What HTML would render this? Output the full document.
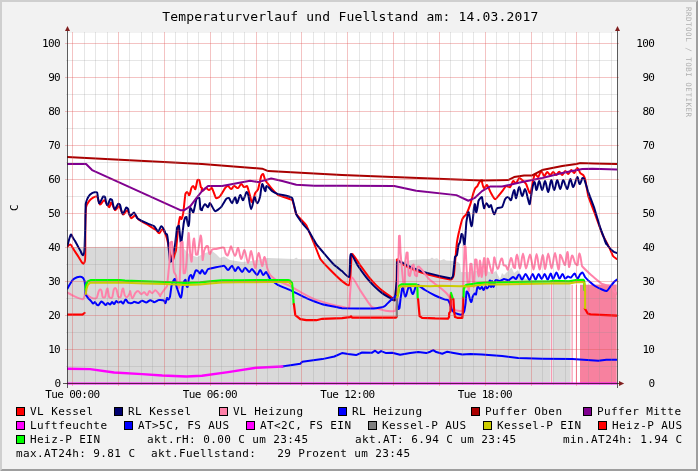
<!DOCTYPE html>
<html><head><meta charset="utf-8"><title>Temperaturverlauf und Fuellstand</title>
<style>html,body{margin:0;padding:0;background:#f2f2f2;}svg{display:block;will-change:transform;}text{font-family:"DejaVu Sans Mono","Liberation Mono",monospace;fill:#000;white-space:pre;}.t{font-size:13px}.l{font-size:11px}.x{font-size:11px}.w{font-size:7.5px;fill:#b0b0b0}</style></head><body>
<svg width="698" height="471" viewBox="0 0 698 471">
<rect x="0" y="0" width="698" height="471" fill="#f2f2f2"/>
<polygon points="0,0 698,0 696,2 2,2 2,469 0,471" fill="#cfcfcf"/>
<polygon points="698,471 0,471 2,469 696,469 696,2 698,0" fill="#9e9e9e"/>
<rect x="67" y="33" width="550" height="351" fill="#fff"/>
<clipPath id="cv"><rect x="67" y="33" width="550" height="352"/></clipPath>
<g clip-path="url(#cv)">
<path d="M67 247.07 L182.6 246.8 L186 251 L190 255 L197 257 L201 255 L205 253 L212 251 L216 254 L220 258 L224 256.5 L230 260 L236 261 L242.1 262 L252 261 L262.2 259 L268 258 L294 259 L296.3 257.6 L298 259 L342 259 L362 259 L385 258.9 L397 259 L405 261.6 L411 260 L423 258.9 L430 258.9 L432 257.6 L434 259 L437 258.3 L440 260.5 L444 259 L446 260.6 L453 261 L458 262 L460 264 L461 272 L470 272 L482 270 L490 272 L492 274 L494 272 L496 271 L500 279 L502 273 L504 275 L507 272 L510 269 L511.5 267.5 L514 273 L518 270 L520 274 L524 278 L530 280 L550 280 L550.6 280 L550.6 383.5 L67 383.5 Z" fill="#d9d9d9"/>
<path d="M551.2 280 L552.2 280 L552.2 383.5 L551.2 383.5 Z" fill="#f7819f"/>
<path d="M552.5 280 L570.5 280 L570.6 280.96 L570.6 383.5 L552.5 383.5 Z" fill="#d9d9d9"/>
<path d="M571.6 284.796 L572.6 284.79 L572.6 383.5 L571.6 383.5 Z" fill="#f7819f"/>
<path d="M575.9 284.768 L576.9 284.762 L576.9 383.5 L575.9 383.5 Z" fill="#f7819f"/>
<path d="M580 284.741 L616.7 284.502 L616.7 383.5 L580 383.5 Z" fill="#f7819f"/>
</g>
<g clip-path="url(#cv)" fill="none" stroke-linejoin="round" stroke-linecap="round">
<path d="M67.52 246.56 C67.52 246.56 69.73 244.13 70.52 244.56 C71.31 244.99 73.48 249.23 74.03 250.07 C74.58 250.91 77.51 255.25 78.05 256.09 C78.59 256.93 81.79 262.25 82.06 262.61 C82.33 262.97 83.16 263.82 83.56 263.61 C83.96 263.40 84.73 261.79 84.87 261.1 C85.01 260.41 85.26 256.09 85.27 255.09 C85.28 254.09 85.35 226.00 85.37 225 C85.39 224.00 85.92 208.15 86.07 207.16 C86.22 206.17 88.48 201.95 89.08 201.15 C89.68 200.35 92.22 198.24 93.09 197.74 C93.96 197.24 96.38 195.83 97.1 196.53 C97.82 197.23 99.22 204.10 100.11 204.56 C101.00 205.02 103.16 199.86 104.12 200.14 C105.08 200.42 108.18 206.84 109.13 207.16 C110.08 207.48 110.25 202.10 111.14 202.55 C112.03 203.00 114.24 209.76 115.15 210.17 C116.06 210.58 118.28 205.68 119.16 206.16 C120.04 206.64 122.28 214.13 123.17 214.58 C124.06 215.03 126.28 209.76 127.19 210.17 C128.10 210.58 130.35 217.66 131.2 218.19 C132.05 218.72 134.22 215.05 135.21 215.19 C136.20 215.33 137.43 218.59 138.22 219.2 C139.01 219.81 147.40 224.69 148.25 225.21 C149.10 225.73 155.46 229.64 156.27 230.23 C157.08 230.82 158.29 233.40 159.28 233.24 C160.27 233.08 161.37 228.84 162.29 229.23 C163.21 229.62 165.92 235.33 166.3 236.25 C166.68 237.17 167.78 242.02 168 243 C168.22 243.98 169.76 252.03 170 253 C170.24 253.97 171.86 258.68 172 259 C172.14 259.32 172.81 260.30 173 260 C173.19 259.70 174.21 255.96 174.5 255 C174.79 254.04 175.85 250.99 176 250 C176.15 249.01 177.40 236.00 177.5 235 C177.60 234.00 178.36 225.99 178.5 225 C178.64 224.01 179.72 217.56 180 217 C180.28 216.44 181.14 219.51 181.5 219 C181.86 218.49 183.20 213.17 183.35 212.18 C183.50 211.19 185.21 194.83 185.35 194.13 C185.49 193.43 186.67 191.95 187.36 192.12 C188.05 192.29 188.72 195.77 189.36 195.13 C190.00 194.49 191.08 188.76 191.37 188.11 C191.66 187.46 192.69 185.93 193.38 186.1 C194.07 186.27 194.88 189.86 195.38 189.11 C195.88 188.36 197.19 180.55 197.39 180.09 C197.59 179.63 199.17 179.64 199.39 180.09 C199.61 180.54 200.68 186.74 200.8 187.11 C200.92 187.48 201.89 187.74 202 188.11 C202.11 188.48 201.25 191.12 202 191.12 C202.75 191.12 205.12 188.24 206.01 188.11 C206.90 187.98 208.12 190.11 209.02 190.11 C209.92 190.11 211.44 187.43 212.03 188.11 C212.62 188.79 215.33 197.43 216.04 198.14 C216.75 198.85 219.38 196.87 220.05 196.13 C220.72 195.39 224.51 188.82 225.07 188.11 C225.63 187.40 227.18 185.95 228.07 186.1 C228.96 186.25 230.08 189.11 231.08 189.11 C232.08 189.11 233.10 186.24 234.09 186.1 C235.08 185.96 237.14 188.38 238.1 188.11 C239.06 187.84 240.12 184.26 241.11 184.1 C242.10 183.94 243.37 186.86 244.12 187.11 C244.87 187.36 246.69 185.44 247.13 186.1 C247.57 186.76 249.84 195.18 250.14 196.13 C250.44 197.08 251.28 202.66 252.14 202.15 C253.00 201.64 254.73 194.03 255.15 193.12 C255.57 192.21 257.83 190.05 258.16 189.11 C258.49 188.17 260.95 176.74 261.17 176.07 C261.39 175.40 262.67 173.57 263.17 174.07 C263.67 174.57 264.73 179.20 265.18 180.09 C265.63 180.98 267.58 183.31 268.19 184.1 C268.80 184.89 271.53 188.37 272.2 189.11 C272.87 189.85 277.34 194.65 278.22 195.13 C279.10 195.61 291.57 199.41 292.26 200.14 C292.95 200.87 295.78 213.31 296.27 214.18 C296.76 215.05 305.78 224.35 306.3 225.21 C306.82 226.07 313.94 243.15 314.32 244.07 C314.70 244.99 319.81 258.19 320.34 259.04 C320.87 259.89 329.67 269.36 330.37 270.07 C331.07 270.78 341.22 280.48 342 281.11 C342.78 281.74 348.16 285.63 349.02 285.12 C349.88 284.61 350.32 277.09 350.42 276.09 C350.52 275.09 351.37 254.78 352.03 254.03 C352.69 253.28 359.46 264.25 360.05 265.06 C360.64 265.87 367.45 275.31 368.07 276.09 C368.69 276.87 375.39 284.41 376.1 285.12 C376.81 285.83 383.33 291.52 384.12 292.14 C384.91 292.76 391.31 297.20 392.14 297.75 C392.97 298.30 396.02 301.15 396.15 300.16 C396.28 299.17 397.00 259.75 397 259.6 C397.00 259.45 397.39 259.21 397.5 259.3 C397.61 259.39 402.18 263.93 403 264.5 C403.82 265.07 409.09 267.60 410 268 C410.91 268.40 419.06 271.67 420 272 C420.94 272.33 429.04 274.74 430 275 C430.96 275.26 439.22 277.28 440.2 277.5 C441.18 277.72 449.74 279.44 450.2 279.5 C450.66 279.56 451.73 279.38 452 279 C452.27 278.62 453.85 274.99 454 274 C454.15 273.01 455.91 253.00 456 252 C456.09 251.00 456.86 242.99 457 242 C457.14 241.01 458.29 234.98 458.5 234 C458.71 233.02 460.09 227.19 460.34 226.22 C460.59 225.25 462.00 220.04 462.34 219.2 C462.68 218.36 463.91 216.74 464.35 216.19 C464.79 215.64 466.04 214.82 466.36 214.18 C466.68 213.54 470.05 205.10 470.37 204.15 C470.69 203.20 473.08 194.07 473.38 193.12 C473.68 192.17 475.03 188.73 475.38 188.11 C475.73 187.49 477.00 186.69 477.39 186.1 C477.78 185.51 478.89 182.74 479.39 182.09 C479.89 181.44 481.50 180.09 482 180.09 C482.50 180.09 481.88 181.60 482 182.09 C482.12 182.58 483.15 187.60 484.01 188.11 C484.87 188.62 486.20 184.52 487.01 185.1 C487.82 185.68 490.53 192.25 491.03 193.12 C491.53 193.99 494.07 198.90 495.04 199.14 C496.01 199.38 498.39 195.88 499.05 195.13 C499.71 194.38 502.45 190.90 503.06 190.11 C503.67 189.32 505.15 186.49 506.07 186.1 C506.99 185.71 509.27 187.69 510.08 187.11 C510.89 186.53 512.34 181.59 513.09 181.09 C513.84 180.59 515.29 183.49 516.1 183.09 C516.91 182.69 518.30 178.48 519.11 178.08 C519.92 177.68 521.42 179.50 522.11 180.09 C522.80 180.68 525.61 183.25 526.13 184.1 C526.65 184.95 529.27 193.62 530.14 193.12 C531.01 192.62 532.90 181.06 533.15 180.09 C533.40 179.12 534.29 174.58 535.15 174.07 C536.01 173.56 537.27 177.53 538.16 177.08 C539.05 176.63 540.18 171.23 541.17 171.06 C542.16 170.89 543.19 175.91 544.18 176.07 C545.17 176.23 546.20 172.22 547.19 172.06 C548.18 171.90 549.19 175.07 550.19 175.07 C551.19 175.07 552.20 172.06 553.2 172.06 C554.20 172.06 555.21 175.14 556.21 175.07 C557.21 175.00 558.22 171.66 559.22 171.66 C560.22 171.66 561.23 175.17 562.23 175.07 C563.23 174.97 564.25 171.22 565.24 171.06 C566.23 170.90 567.26 174.23 568.25 174.07 C569.24 173.91 570.27 170.22 571.26 170.06 C572.25 169.90 573.31 173.39 574.26 173.07 C575.21 172.75 576.27 168.05 577.27 168.05 C578.27 168.05 579.69 172.38 580.28 173.07 C580.87 173.76 582.76 174.34 583.29 175.07 C583.82 175.80 585.07 179.12 585.3 180.09 C585.53 181.06 588.03 195.17 588.3 196.13 C588.57 197.09 593.97 211.24 594.32 212.18 C594.67 213.12 601.96 233.31 602.34 234.24 C602.72 235.17 606.90 243.18 607.36 244.07 C607.82 244.96 609.57 248.10 610 249 C610.43 249.90 612.44 255.17 613 256 C613.56 256.83 616.70 259.00 616.7 259" stroke="#ff0000" stroke-width="2"/>
<path d="M67.52 245.56 C67.52 245.56 69.23 238.95 69.52 238.04 C69.81 237.13 70.34 234.76 71.03 234.53 C71.72 234.30 72.15 236.41 72.53 237.03 C72.91 237.65 74.54 240.18 75.04 241.05 C75.54 241.92 77.57 245.68 78.05 246.56 C78.53 247.44 80.04 250.21 80.55 251.07 C81.06 251.93 82.17 255.54 83.06 255.09 C83.95 254.64 84.49 250.07 84.56 249.07 C84.63 248.07 85.25 226.00 85.27 225 C85.29 224.00 85.57 205.14 85.67 204.15 C85.77 203.16 87.57 197.99 88.07 197.13 C88.57 196.27 91.20 193.57 92.09 193.12 C92.98 192.67 96.53 191.70 97.1 192.52 C97.67 193.34 98.28 202.60 99.11 203.15 C99.94 203.70 102.75 196.90 103.12 196.53 C103.49 196.16 104.90 196.66 105.12 197.13 C105.34 197.60 106.20 204.79 107.13 205.16 C108.06 205.53 109.75 199.54 110.14 199.14 C110.53 198.74 111.91 199.63 112.14 200.14 C112.37 200.65 113.69 208.66 114.55 209.17 C115.41 209.68 117.66 204.11 118.16 203.75 C118.66 203.39 119.92 204.60 120.17 205.16 C120.42 205.72 121.64 213.41 122.57 213.78 C123.50 214.15 125.68 207.97 126.18 207.56 C126.68 207.15 127.91 208.59 128.19 209.17 C128.47 209.75 129.32 215.30 130.19 215.79 C131.06 216.28 133.26 212.26 134.21 212.58 C135.16 212.90 136.53 217.46 137.21 218.19 C137.89 218.92 141.34 220.75 142.23 221.2 C143.12 221.65 147.33 223.42 148.25 223.81 C149.17 224.20 153.46 225.63 154.26 226.22 C155.06 226.81 157.28 231.23 158.28 231.23 C159.28 231.23 160.29 226.38 161.28 226.22 C162.27 226.06 163.85 229.48 164.29 230.23 C164.73 230.98 165.26 233.12 165.5 233.5 C165.74 233.88 166.86 234.07 167 234.5 C167.14 234.93 167.89 240.01 168 241 C168.11 241.99 169.93 261.20 170 261.6 C170.07 262.00 171.37 261.38 171.5 261 C171.63 260.62 173.79 250.98 174 250 C174.21 249.02 174.86 245.99 175 245 C175.14 244.01 176.85 228.69 177 228 C177.15 227.31 178.82 225.32 179 226 C179.18 226.68 180.54 241.65 180.6 242 C180.66 242.35 181.54 241.35 181.6 241 C181.66 240.65 183.45 224.99 183.6 224 C183.75 223.01 184.81 218.43 185 218 C185.19 217.57 186.41 216.57 186.6 217 C186.79 217.43 187.77 226.55 188.6 226 C189.43 225.45 189.50 216.00 189.6 215 C189.70 214.00 189.57 208.77 190.37 208.17 C191.17 207.57 192.83 213.01 193.38 212.18 C193.93 211.35 196.07 199.87 196.38 199.14 C196.69 198.41 199.10 197.40 199.39 198.14 C199.68 198.88 200.30 208.71 200.4 209.17 C200.50 209.63 201.75 210.17 202 210.17 C202.25 210.17 201.89 209.39 202 209.17 C202.11 208.95 204.06 204.47 205.01 204.15 C205.96 203.83 207.04 207.36 208.02 207.16 C209.00 206.96 209.15 202.65 210.02 203.15 C210.89 203.65 214.10 210.83 215.04 211.17 C215.98 211.51 220.37 207.90 221.05 207.16 C221.73 206.42 225.54 199.73 226.07 199.14 C226.60 198.55 228.42 197.70 229.08 198.14 C229.74 198.58 231.10 203.32 232.09 203.15 C233.08 202.98 234.09 197.13 235.09 197.13 C236.09 197.13 236.17 203.52 237.1 203.15 C238.03 202.78 239.22 195.58 240.11 195.13 C241.00 194.68 242.21 200.56 243.12 200.14 C244.03 199.72 245.73 192.72 246.53 192.12 C247.33 191.52 248.27 195.16 248.53 196.13 C248.79 197.10 250.15 209.01 251.14 209.17 C252.13 209.33 253.84 197.84 254.55 197.13 C255.26 196.42 256.18 203.33 257.16 203.15 C258.14 202.97 259.92 197.10 260.17 196.13 C260.42 195.16 261.46 184.81 262.17 184.1 C262.88 183.39 264.27 190.71 265.18 191.12 C266.09 191.53 265.58 186.10 266.58 186.1 C267.58 186.10 271.38 190.55 272.2 191.12 C273.02 191.69 277.27 193.82 278.22 194.13 C279.17 194.44 285.28 195.46 286.24 195.73 C287.20 196.00 291.78 197.26 292.26 198.14 C292.74 199.02 295.90 213.25 296.27 214.18 C296.64 215.11 301.69 222.41 302.29 223.21 C302.89 224.01 307.74 229.40 308.3 230.23 C308.86 231.06 315.76 243.25 316.33 244.07 C316.90 244.89 325.71 255.27 326.36 256.03 C327.01 256.79 333.66 264.37 334.38 265.06 C335.10 265.75 341.23 270.45 342 271.08 C342.77 271.71 348.27 277.75 349.02 277.09 C349.77 276.43 349.93 265.06 350.02 264.06 C350.11 263.06 350.06 253.79 351.03 254.03 C352.00 254.27 357.50 265.22 358.05 266.06 C358.60 266.90 365.45 276.31 366.07 277.09 C366.69 277.87 373.38 285.41 374.09 286.12 C374.80 286.83 381.31 292.54 382.11 293.14 C382.91 293.74 389.27 297.66 390.14 298.15 C391.01 298.64 394.21 301.10 394.55 300.16 C394.89 299.22 396.93 280.00 397 279 C397.07 278.00 397.08 262.80 397.2 262.1 C397.32 261.40 399.30 261.58 400 261.7 C400.70 261.82 402.26 262.74 403 263.1 C403.74 263.46 409.09 266.20 410 266.6 C410.91 267.00 419.06 270.27 420 270.6 C420.94 270.93 429.04 273.34 430 273.6 C430.96 273.86 439.23 275.87 440.2 276.1 C441.17 276.33 449.99 278.25 450.2 278.3 C450.41 278.35 450.83 278.74 451 278.6 C451.17 278.46 452.85 276.81 453 276 C453.15 275.19 454.87 257.69 455 257 C455.13 256.31 456.80 255.68 457 255 C457.20 254.32 458.31 245.82 458.5 245 C458.69 244.18 459.78 242.81 460 242 C460.22 241.19 461.37 234.35 461.5 234 C461.63 233.65 462.50 234.64 462.6 235 C462.70 235.36 464.32 245.96 464.6 245 C464.88 244.04 466.23 223.20 466.36 222.21 C466.49 221.22 467.98 211.56 468.76 212.18 C469.54 212.80 470.45 225.82 471.37 226.22 C472.29 226.62 473.23 215.17 473.38 214.18 C473.53 213.19 473.95 204.70 474.78 204.15 C475.61 203.60 475.61 212.82 476.38 212.18 C477.15 211.54 478.14 202.02 478.39 201.15 C478.64 200.28 480.08 198.49 480.4 198.14 C480.72 197.79 481.84 196.68 482 197.13 C482.16 197.58 483.42 207.36 484.01 208.17 C484.60 208.98 485.43 203.35 486.41 203.15 C487.39 202.95 488.37 206.88 489.02 207.16 C489.67 207.44 490.62 204.58 491.03 205.16 C491.44 205.74 493.14 213.73 494.03 214.18 C494.92 214.63 496.29 208.83 497.04 208.17 C497.79 207.51 501.40 207.91 502.06 207.16 C502.72 206.41 504.61 199.91 505.07 199.14 C505.53 198.37 507.18 196.98 508.07 197.13 C508.96 197.28 510.43 200.90 511.08 200.14 C511.73 199.38 513.16 190.48 514.09 190.11 C515.02 189.74 515.24 198.65 516.1 198.14 C516.96 197.63 518.16 187.43 519.11 187.11 C520.06 186.79 521.16 195.81 522.11 196.13 C523.06 196.45 524.18 188.77 525.12 189.11 C526.06 189.45 527.44 197.18 527.73 198.14 C528.02 199.10 529.30 205.05 529.74 204.15 C530.18 203.25 531.93 190.09 532.14 189.11 C532.35 188.13 533.57 181.87 534.55 182.09 C535.53 182.31 535.58 190.32 536.56 190.11 C537.54 189.90 538.16 181.09 539.16 181.09 C540.16 181.09 541.17 190.11 542.17 190.11 C543.17 190.11 544.23 180.77 545.18 181.09 C546.13 181.41 547.20 192.28 548.19 192.12 C549.18 191.96 550.25 180.41 551.2 180.09 C552.15 179.77 553.21 190.11 554.21 190.11 C555.21 190.11 556.22 180.25 557.21 180.09 C558.20 179.93 559.22 189.11 560.22 189.11 C561.22 189.11 562.23 180.09 563.23 180.09 C564.23 180.09 566.25 189.25 567.24 189.11 C568.23 188.97 569.30 179.40 570.25 179.08 C571.20 178.76 572.30 187.38 573.26 187.11 C574.22 186.84 576.36 177.50 577.27 177.08 C578.18 176.66 578.70 183.90 579.68 184.1 C580.66 184.30 581.91 178.49 582.29 178.08 C582.67 177.67 584.07 178.57 584.29 179.08 C584.51 179.59 587.97 191.17 588.3 192.12 C588.63 193.07 594.00 207.22 594.32 208.17 C594.64 209.12 600.02 227.27 600.34 228.22 C600.66 229.17 606.01 243.13 606.36 244.07 C606.71 245.01 604.05 239.24 604.7 240 C605.35 240.76 607.39 245.21 608 246 C608.61 246.79 613.38 251.51 614 252 C614.62 252.49 617.00 253.00 617 253" stroke="#00006e" stroke-width="2"/>
<path d="M67.52 292.56 C67.52 292.56 73.13 295.64 74.03 296.07 C74.93 296.50 79.33 298.34 80.05 298.58 C80.77 298.82 82.39 299.45 83.06 299.08 C83.73 298.71 84.29 296.87 84.56 296.07 C84.83 295.27 84.55 292.85 85.27 292.56 C85.99 292.27 86.49 294.57 87.07 295.07 C87.65 295.57 90.16 297.18 91.08 297.58 C92.00 297.98 94.47 298.63 95.09 298.58 C95.71 298.53 96.82 297.64 97.1 297.08 C97.38 296.52 98.37 292.14 98.6 291.56 C98.83 290.98 99.59 289.65 100.11 289.56 C100.63 289.47 101.44 290.56 101.61 291.06 C101.78 291.56 102.31 296.54 102.62 297.08 C102.93 297.62 104.81 297.62 105.12 297.08 C105.43 296.54 106.50 290.49 106.63 290.06 C106.76 289.63 107.48 288.12 107.63 288.55 C107.78 288.98 108.79 296.40 109.13 297.08 C109.47 297.76 111.73 298.22 112.14 297.58 C112.55 296.94 113.46 290.66 113.65 290.06 C113.84 289.46 114.52 288.05 115.15 288.05 C115.78 288.05 116.45 289.47 116.66 290.06 C116.87 290.65 117.84 296.02 118.16 296.58 C118.48 297.14 120.33 297.63 120.67 297.08 C121.01 296.53 122.04 290.49 122.17 290.06 C122.30 289.63 122.97 288.15 123.17 288.55 C123.37 288.95 124.34 294.34 124.68 295.07 C125.02 295.80 126.44 297.38 127.19 297.08 C127.94 296.78 129.46 293.52 129.69 293.07 C129.92 292.62 129.97 290.68 130.19 291.13 C130.41 291.58 131.27 297.78 132.2 298.15 C133.13 298.52 134.62 293.83 135.21 293.14 C135.80 292.45 137.33 290.98 138.22 291.13 C139.11 291.28 140.34 293.99 141.23 294.14 C142.12 294.29 143.34 291.99 144.23 292.14 C145.12 292.29 146.26 295.35 147.24 295.15 C148.22 294.95 148.41 291.47 149.25 291.13 C150.09 290.79 151.37 293.29 152.26 293.14 C153.15 292.99 154.27 290.13 155.27 290.13 C156.27 290.13 157.70 292.45 158.28 293.14 C158.86 293.83 160.24 296.08 160.28 296.15 C160.32 296.22 159.96 296.07 160 296 C160.04 295.93 163.43 290.82 164 290 C164.57 289.18 166.76 286.97 167 286 C167.24 285.03 168.40 272.99 168.5 272 C168.60 271.01 169.45 263.00 169.5 262 C169.55 261.00 169.93 243.55 170 243 C170.07 242.45 171.91 241.45 172 242 C172.09 242.55 172.93 261.00 173 262 C173.07 263.00 173.78 271.02 174 272 C174.22 272.98 175.76 274.53 176 275.5 C176.24 276.47 177.39 285.45 177.5 286 C177.61 286.55 178.00 288.25 178.5 288 C179.00 287.75 179.43 285.79 179.5 285 C179.57 284.21 179.96 273.00 180 272 C180.04 271.00 180.48 263.00 180.5 262 C180.52 261.00 180.54 243.56 180.6 243 C180.66 242.44 182.54 241.44 182.6 242 C182.66 242.56 183.57 272.73 183.6 273.1 C183.63 273.47 185.01 273.46 185.1 273.1 C185.19 272.74 186.51 262.00 186.6 261 C186.69 260.00 188.20 233.92 188.6 233 C189.00 232.08 190.00 252.01 190.1 253 C190.20 253.99 191.31 262.56 191.6 261.6 C191.89 260.64 192.99 243.99 193.1 243 C193.21 242.01 193.86 237.63 194.1 238.6 C194.34 239.57 195.81 254.08 195.9 254.5 C195.99 254.92 197.50 254.91 197.6 254.5 C197.70 254.09 200.33 236.56 200.6 235.6 C200.87 234.64 201.52 239.00 201.6 240 C201.68 241.00 202.38 259.02 202.6 260 C202.82 260.98 203.83 251.96 204.1 251 C204.37 250.04 206.34 246.30 206.6 246 C206.86 245.70 207.96 246.13 208.1 246.5 C208.24 246.87 208.79 253.41 209.6 254 C210.41 254.59 211.40 250.10 212.2 249.5 C213.00 248.90 215.22 249.20 216.2 249 C217.18 248.80 221.69 247.56 222.2 247.5 C222.71 247.44 223.94 247.55 224.2 248 C224.46 248.45 225.40 252.86 225.7 253.5 C226.00 254.14 227.21 256.01 227.7 255.5 C228.19 254.99 229.76 249.66 230 249 C230.24 248.34 230.67 245.84 231.08 246.41 C231.49 246.98 234.12 255.81 235.09 256.03 C236.06 256.25 237.21 247.56 238.1 248.01 C238.99 248.46 240.16 258.74 241.11 259.04 C242.06 259.34 243.65 249.52 244.52 250.02 C245.39 250.52 247.14 262.90 248.13 263.05 C249.12 263.20 250.33 250.44 251.14 251.02 C251.95 251.60 254.18 267.81 255.15 268.07 C256.12 268.33 257.60 253.31 258.56 253.03 C259.52 252.75 261.34 265.51 262.17 266.06 C263.00 266.61 263.65 256.67 264.58 257.04 C265.51 257.41 266.89 267.12 267.19 268.07 C267.49 269.02 269.59 274.29 270.19 275.09 C270.79 275.89 275.33 279.62 276.21 280.1 C277.09 280.58 289.36 285.67 290.25 286.12 C291.14 286.57 301.41 292.66 302.29 293.14 C303.17 293.62 313.39 298.79 314.32 299.16 C315.25 299.53 329.41 303.90 330.37 304.17 C331.33 304.44 341.02 306.59 342 306.78 C342.98 306.97 348.48 308.62 349.02 307.78 C349.56 306.94 349.92 295.14 350.02 294.14 C350.12 293.14 351.10 277.46 352.03 277.09 C352.96 276.72 359.51 289.29 360.05 290.13 C360.59 290.97 367.49 301.35 368.07 302.17 C368.65 302.99 371.21 306.70 372.09 307.18 C372.97 307.66 381.38 309.60 382.11 309.79 C382.84 309.98 384.25 310.53 385 310.6 C385.75 310.67 394.24 311.65 395 311 C395.76 310.35 397.41 301.00 397.5 300 C397.59 299.00 397.98 280.00 398 279 C398.02 278.00 398.99 236.21 399 236 C399.01 235.79 399.78 235.59 399.8 235.8 C399.82 236.01 400.44 251.00 400.5 252 C400.56 253.00 401.89 269.01 402 270 C402.11 270.99 403.79 289.71 404.5 289 C405.21 288.29 404.94 268.00 405 267 C405.06 266.00 406.56 252.85 406.6 252.6 C406.64 252.35 407.58 252.35 407.6 252.6 C407.62 252.85 408.56 274.57 408.6 275 C408.64 275.43 409.85 276.40 410 276 C410.15 275.60 411.84 266.51 412 266 C412.16 265.49 413.43 264.10 413.6 264.6 C413.77 265.10 414.84 274.46 415 275 C415.16 275.54 416.83 276.53 417 276 C417.17 275.47 417.52 267.36 417.6 267 C417.68 266.64 418.70 266.39 419 266.6 C419.30 266.81 421.37 269.22 422 270 C422.63 270.78 424.39 273.21 425 274 C425.61 274.79 428.29 278.30 429 279 C429.71 279.70 434.41 283.39 435.2 284 C435.99 284.61 440.43 287.86 441.2 288.5 C441.97 289.14 446.55 293.24 447.2 294 C447.85 294.76 449.80 298.09 450.2 299 C450.60 299.91 452.10 305.08 452.5 306 C452.90 306.92 454.13 309.51 455 310 C455.87 310.49 460.93 311.07 461.5 311 C462.07 310.93 462.56 309.57 462.6 309 C462.64 308.43 462.97 291.00 463 290 C463.03 289.00 464.58 246.35 464.6 246 C464.62 245.65 465.57 246.65 465.6 247 C465.63 247.35 466.93 276.00 467 277 C467.07 278.00 468.55 291.97 468.8 291 C469.05 290.03 470.27 264.32 470.3 264 C470.33 263.68 471.55 263.68 471.6 264 C471.65 264.32 473.18 287.78 473.8 287 C474.42 286.22 475.06 259.99 475.1 259.6 C475.14 259.21 476.52 259.62 476.6 260 C476.68 260.38 477.61 276.33 478.6 276.5 C479.59 276.67 479.11 260.45 480.1 260.6 C481.09 260.75 480.96 277.54 481.8 277 C482.64 276.46 483.16 258.35 484.1 258 C485.04 257.65 484.81 275.33 485.8 275.5 C486.79 275.67 487.39 259.49 487.6 258.6 C487.81 257.71 488.72 261.12 489 262 C489.28 262.88 491.44 273.65 492.2 273 C492.96 272.35 493.91 258.46 494.2 257.5 C494.49 256.54 495.20 261.05 495.5 262 C495.80 262.95 496.80 269.00 497.8 269 C498.80 269.00 499.63 262.93 500 262 C500.37 261.07 501.24 257.85 502 258.5 C502.76 259.15 503.18 264.41 503.5 265 C503.82 265.59 505.53 265.52 506 266 C506.47 266.48 507.47 270.45 508 269.6 C508.53 268.75 510.10 258.43 511 258 C511.90 257.57 513.33 266.58 513.5 267 C513.67 267.42 514.88 268.43 515 268 C515.12 267.57 516.01 254.38 517 254.5 C517.99 254.62 519.01 268.76 520 268.6 C520.99 268.44 522.00 253.50 523 253.5 C524.00 253.50 525.01 268.46 526 268.6 C526.99 268.74 529.01 254.37 530 254.5 C530.99 254.63 532.60 269.68 533.6 269.6 C534.60 269.52 535.60 254.00 536.6 254 C537.60 254.00 538.61 269.44 539.6 269.6 C540.59 269.76 541.71 255.11 542.7 255 C543.69 254.89 544.24 269.26 545.2 269 C546.16 268.74 547.20 253.56 548.2 253.5 C549.20 253.44 550.60 268.67 551.6 268.6 C552.60 268.53 554.01 252.86 555 253 C555.99 253.14 557.57 269.23 558.5 269.6 C559.43 269.97 559.74 255.86 560 255 C560.26 254.14 561.60 257.19 562 258 C562.40 258.81 564.32 265.73 565 265 C565.68 264.27 566.71 251.55 567.6 252 C568.49 252.45 568.22 266.38 569 267 C569.78 267.62 571.17 256.05 572 255.5 C572.83 254.95 574.58 262.29 575 263 C575.42 263.71 577.24 265.74 577.6 265 C577.96 264.26 578.62 253.28 579.6 253.5 C580.58 253.72 581.55 265.11 582 266 C582.45 266.89 589.27 273.32 590 274 C590.73 274.68 596.23 279.36 597 280 C597.77 280.64 601.09 283.58 602 284 C602.91 284.42 609.14 285.50 610 286 C610.86 286.50 613.34 290.25 614 291 C614.66 291.75 617.00 294.00 617 294" stroke="#ff82aa" stroke-width="2"/>
<path d="M67.52 288.55 C67.52 288.55 69.50 284.89 70.02 284.04 C70.54 283.19 72.31 280.23 73.03 279.53 C73.75 278.83 76.21 277.52 77.04 277.22 C77.87 276.92 79.86 276.73 80.55 276.82 C81.24 276.91 82.58 277.52 83.06 278.02 C83.54 278.52 84.36 280.21 84.56 281.03 C84.76 281.85 85.19 286.05 85.27 287.05 C85.35 288.05 85.32 293.10 85.57 294.07 C85.82 295.04 87.45 297.29 88.07 298.08 C88.69 298.87 90.54 300.50 91.08 301.09 C91.62 301.68 92.48 303.45 93.09 303.6 C93.70 303.75 94.49 301.92 95.09 302.09 C95.69 302.26 96.21 304.26 96.6 304.6 C96.99 304.94 98.17 305.39 98.6 305.1 C99.03 304.81 100.62 301.86 101.11 301.59 C101.60 301.32 102.68 302.25 103.12 302.59 C103.56 302.93 104.91 305.02 105.62 305.1 C106.33 305.18 106.92 303.17 107.63 303.09 C108.34 303.01 109.43 304.76 110.14 304.6 C110.85 304.44 111.43 302.18 112.14 302.09 C112.85 302.00 113.46 304.27 114.15 304.1 C114.84 303.93 115.56 301.31 116.15 301.09 C116.74 300.87 117.54 302.53 118.16 302.59 C118.78 302.65 120.48 301.45 121.17 301.59 C121.86 301.73 122.52 303.89 123.17 303.6 C123.82 303.31 124.72 299.77 125.68 299.58 C126.64 299.39 127.35 302.12 128.19 302.59 C129.03 303.06 131.36 303.18 132 303.09 C132.64 303.00 133.57 301.78 134.21 301.77 C134.85 301.76 137.23 303.09 138.22 302.97 C139.21 302.85 141.23 300.81 142.23 300.76 C143.23 300.71 145.24 302.64 146.24 302.57 C147.24 302.50 149.25 300.21 150.25 300.16 C151.25 300.11 153.26 302.17 154.26 302.17 C155.26 302.17 157.88 300.31 158.28 300.16 C158.68 300.01 159.57 300.07 160 300.1 C160.43 300.13 163.36 300.25 164 300.6 C164.64 300.95 164.95 303.58 165.5 303.1 C166.05 302.62 166.64 298.42 167 298 C167.36 297.58 168.00 299.83 168.5 299.6 C169.00 299.37 169.82 297.42 170 296.6 C170.18 295.78 171.29 286.98 171.5 286 C171.71 285.02 173.26 280.97 173.5 280.5 C173.74 280.03 174.74 278.54 175 279 C175.26 279.46 175.76 284.03 176 285 C176.24 285.97 177.63 290.07 178 291 C178.37 291.93 180.25 298.26 181 297.6 C181.75 296.94 182.42 287.98 182.6 287 C182.78 286.02 183.78 282.00 184 281.5 C184.22 281.00 185.33 279.53 185.6 280 C185.87 280.47 186.50 285.66 186.6 286 C186.70 286.34 187.50 287.34 187.6 287 C187.70 286.66 188.74 278.88 189 278 C189.26 277.12 190.19 274.87 191.1 275 C192.01 275.13 191.93 279.17 192.6 278.5 C193.27 277.83 195.24 271.00 195.6 270.5 C195.96 270.00 197.49 270.66 198 271 C198.51 271.34 199.30 273.68 200.1 273.5 C200.90 273.32 201.03 269.95 202 270.07 C202.97 270.19 204.02 274.25 205.01 274.09 C206.00 273.93 207.11 269.47 208.02 269.07 C208.93 268.67 223.06 265.61 224.06 265.66 C225.06 265.71 227.07 270.07 228.07 270.07 C229.07 270.07 231.10 265.52 232.09 265.66 C233.08 265.80 234.12 270.85 235.09 271.08 C236.06 271.31 237.11 266.93 238.1 267.07 C239.09 267.21 241.11 271.99 242.11 272.08 C243.11 272.17 244.12 267.67 245.12 267.67 C246.12 267.67 248.15 271.88 249.13 272.08 C250.11 272.28 251.20 268.72 252.14 269.07 C253.08 269.42 256.17 274.97 257.16 275.09 C258.15 275.21 259.17 270.07 260.17 270.07 C261.17 270.07 262.22 274.77 263.17 275.09 C264.12 275.41 265.31 271.58 266.18 272.08 C267.05 272.58 269.51 278.37 270.19 279.1 C270.87 279.83 277.34 284.64 278.22 285.12 C279.10 285.60 289.34 289.71 290.25 290.13 C291.16 290.55 305.38 297.75 306.3 298.15 C307.22 298.55 321.38 303.90 322.34 304.17 C323.30 304.44 341.00 308.09 342 308.18 C343.00 308.27 371.09 308.60 372.09 308.58 C373.09 308.56 381.34 307.33 382.11 307.18 C382.88 307.03 384.39 306.48 385 306 C385.61 305.52 389.28 301.69 390 301 C390.72 300.31 394.69 296.74 395 296.5 C395.31 296.26 396.41 295.62 396.5 296 C396.59 296.38 397.89 308.56 398 309 C398.11 309.44 399.39 308.44 399.5 308 C399.61 307.56 400.37 299.99 400.5 299 C400.63 298.01 401.92 289.34 402 289 C402.08 288.66 402.80 287.71 403 288 C403.20 288.29 403.71 291.04 404 292 C404.29 292.96 404.73 296.99 405.6 296.5 C406.47 296.01 407.23 290.93 407.6 290 C407.97 289.07 408.71 286.05 409.6 286.5 C410.49 286.95 411.35 291.44 411.6 292 C411.85 292.56 412.49 294.34 413 294 C413.51 293.66 414.32 290.74 414.6 290 C414.88 289.26 415.16 287.65 415.6 287 C416.04 286.35 417.38 285.07 418 285 C418.62 284.93 419.49 286.14 420 286.5 C420.51 286.86 424.14 289.49 425 290 C425.86 290.51 434.10 295.07 435 295.5 C435.90 295.93 444.53 299.37 445.2 299.6 C445.87 299.83 447.48 299.52 448 300 C448.52 300.48 449.63 303.07 450 304 C450.37 304.93 451.51 309.13 452 310 C452.49 310.87 454.34 312.56 455 313 C455.66 313.44 457.23 313.81 458 314 C458.77 314.19 460.66 314.88 461.5 314.6 C462.34 314.32 463.70 312.85 464 312 C464.30 311.15 465.47 303.99 465.6 303 C465.73 302.01 466.35 292.34 466.6 291.6 C466.85 290.86 468.30 293.28 468.6 294 C468.90 294.72 470.20 301.40 471 302 C471.80 302.60 472.21 297.92 472.6 297 C472.99 296.08 474.25 293.75 474.6 293.5 C474.95 293.25 475.83 294.90 476 294.5 C476.17 294.10 477.09 287.20 477.6 286.5 C478.11 285.80 479.30 288.92 480 289 C480.70 289.08 481.32 286.81 482 287 C482.68 287.19 482.76 290.12 483.6 290 C484.44 289.88 485.04 286.75 485.6 286.5 C486.16 286.25 486.40 288.59 487 288.5 C487.60 288.41 488.72 286.75 489 286 C489.28 285.25 489.11 280.05 490 280.5 C490.89 280.95 490.03 286.76 491 287 C491.97 287.24 491.00 281.00 492 281 C493.00 281.00 492.50 287.00 493.5 287 C494.50 287.00 494.88 281.33 495 281 C495.12 280.67 495.65 280.00 496 280 C496.35 280.00 499.01 281.12 500 281 C500.99 280.88 503.49 279.12 504 279 C504.51 278.88 505.49 279.50 506 279.6 C506.51 279.70 508.29 280.26 509 280 C509.71 279.74 512.11 277.13 513 277 C513.89 276.87 515.17 279.35 516 279 C516.83 278.65 518.00 274.40 519 274.5 C520.00 274.60 521.00 279.68 522 279.6 C523.00 279.52 524.60 273.95 525.6 274 C526.60 274.05 528.60 280.00 529.6 280 C530.60 280.00 531.60 274.07 532.6 274 C533.60 273.93 534.60 279.60 535.6 279.6 C536.60 279.60 537.60 274.10 538.6 274 C539.60 273.90 540.70 279.00 541.7 279 C542.70 279.00 543.70 273.90 544.7 274 C545.70 274.10 546.70 279.67 547.7 279.6 C548.70 279.53 549.71 273.71 550.7 273.6 C551.69 273.49 552.01 279.17 553 279 C553.99 278.83 555.50 272.66 556.5 272.6 C557.50 272.54 558.53 278.37 559.5 278.6 C560.47 278.83 561.50 274.00 562.5 274 C563.50 274.00 564.19 278.21 565 278.6 C565.81 278.99 567.22 276.73 568 276.6 C568.78 276.47 570.28 277.93 571 277.6 C571.72 277.27 573.61 273.45 574.6 273.6 C575.59 273.75 576.62 278.42 577.6 278.6 C578.58 278.78 579.48 275.23 580 274.6 C580.52 273.97 581.86 272.25 582.6 272.6 C583.34 272.95 584.38 276.21 585 277 C585.62 277.79 589.26 281.33 590 282 C590.74 282.67 594.15 285.47 595 286 C595.85 286.53 601.08 289.11 602 289.5 C602.92 289.89 605.75 291.30 606.7 291 C607.65 290.70 609.37 287.78 610 287 C610.63 286.22 613.33 282.71 614 282 C614.67 281.29 617.00 279.50 617 279.5" stroke="#0000ff" stroke-width="2"/>
<path d="M67.01 157.02 L202 164.04 L262.17 168.65 L268.19 171.06 L342 175.07 L482 180.49 L508.07 180.09 L514.09 177.08 L524.12 175.47 L532.14 175.47 L542.17 170.06 L562.23 166.05 L576.27 164.04 L580.28 163.04 L594.32 163.44 L617.39 164.04" stroke="#aa0000" stroke-width="2"/>
<path d="M67.01 164.04 L86.07 164.04 L92.09 170.06 L180.34 210.17 L184.35 210.17 L190.37 206.16 L196.38 198.14 L202 191.12 L208.02 186.1 L222.06 186.1 L250.14 180.69 L258.16 182.09 L271.2 178.48 L282.23 181.09 L296.27 184.7 L314.32 185.7 L342 185.7 L394.15 186.1 L416.21 190.72 L456.33 195.13 L468.36 200.74 L474.38 198.14 L482 191.12 L490.02 186.5 L502.06 186.5 L522.11 182.09 L542.17 178.08 L562.23 173.07 L582.29 169.05 L592.32 168.65 L617.39 169.46" stroke="#800090" stroke-width="2"/>
<path d="M67 383.5H617" stroke="#ff00ff" stroke-width="2"/>
<path d="M282.23 366.53 L300.28 363.72 L302.29 361.72 L322.34 359.11 L334.38 356.5 L342 353.09 L348.02 354.1 L356.04 355.1 L362.06 352.49 L372.09 352.69 L375.09 350.69 L378.1 353.09 L381.11 351.09 L386.13 353.09 L392.14 352.69 L400.17 354.7 L410.19 353.09 L418.22 352.09 L426.24 353.09 L430.25 351.69 L433.26 350.09 L436.27 352.09 L442.29 353.7 L447.3 351.69 L452.32 352.69 L462.34 354.5 L470.37 354.1 L482 354.5 L502.06 356.1 L518.1 358.11 L542.17 358.71 L572.26 359.11 L598.33 360.72 L606.36 359.71 L617.39 359.71" stroke="#0000ff" stroke-width="2"/>
<path d="M67.01 368.74 L90.08 369.14 L114.15 372.55 L142.23 374.15 L162.29 375.56 L186.36 376.56 L202 375.76 L228.07 372.15 L256.15 367.74 L282.23 366.53" stroke="#ff00ff" stroke-width="2.4"/>
<path d="M67 314.6 L82.5 314.6 L84.5 313" stroke="#ff0000" stroke-width="2.2"/>
<path d="M85.3 289.5 L86 285 L87.6 281.5 L91 280.1 L120 280.2 L125 280.6 L145 281.3 L165 282 L185 282.8 L200 282.4 L210 281.3 L222 280.4 L240 280.3 L288 280 L290 280.6 L292 283 L292.8 290 L293.7 304.2" stroke="#00ff00" stroke-width="2.2"/>
<path d="M293.9 304.2 L295.3 315.2 L300.3 319.2 L306.3 320.2 L316.3 320.2 L322.3 318.8 L342 318.2 L350 317.2 L351 316.2 L352 317.6 L396 317.6 L396.8 316.6" stroke="#ff0000" stroke-width="2.2"/>
<path d="M396.8 316 L396.8 297" stroke="#808080" stroke-width="2.2"/>
<path d="M397.8 295.5 L398.5 292 L399.2 286 L401.5 284.4 L416.4 284.3 L417.3 285.5 L417.7 298.5" stroke="#00ff00" stroke-width="2.2"/>
<path d="M418.1 299 L418.6 305 L419.6 316.1 L422.1 317.9 L435.2 318.4 L448.2 318.6 L449 317.1 L449.2 313.1 L450.5 311.3 L450.8 294" stroke="#ff0000" stroke-width="2.2"/>
<path d="M451 293 L453 299" stroke="#00ff00" stroke-width="2.2"/>
<path d="M453.4 299 L454.2 312 L455 317 L457.3 317.8 L462.3 317.8 L462.8 312 L463.1 305 L463.3 297" stroke="#ff0000" stroke-width="2.2"/>
<path d="M463.5 296.6 L463.8 289 L465 286 L466.5 284.9 L472.2 284 L477.9 283.2 L485.4 282.6 L496 282.4 L510 282 L550 281.3 L555 280.9 L569 281.4 L576 280.2 L583.5 279.9 L584.2 281 L584.6 290.3" stroke="#00ff00" stroke-width="2.2"/>
<path d="M584.8 308.6 L586 310.5 L587.7 313.5 L590.5 314.4 L595 314.6 L616.7 315.6" stroke="#ff0000" stroke-width="2.2"/>
<path d="M85.8 294 L86.5 289 L87.8 285 L90 282.8 L120 282.5 L125 282.8 L145 283.4 L165 284 L185 284.9 L200 284.5 L210 283.4 L222 282.4 L240 282.3 L272 282 L288.5 282 L291 284" stroke="#cccc00" stroke-width="2"/>
<path d="M397.3 297.5 L397.8 295 L398.8 288.5 L400.5 286.4 L417.6 285.8 L430 286.2 L440 285.7 L460 286.2 L463 286 L466.5 286.6 L472 286 L478 285.3 L485 284.6 L496 284.4 L510 284.2 L550 283.6 L555 283.3 L569 283.6 L576 282.3 L583 282 L584.6 283.5 L585.1 290 L585.1 308.3" stroke="#cccc00" stroke-width="2"/>
</g>
<g shape-rendering="crispEdges" fill="none" stroke-width="1">
<path d="M84.5 32V385" stroke="#8f8f8f" stroke-opacity="0.22" />
<path d="M95.5 32V385" stroke="#8f8f8f" stroke-opacity="0.22" />
<path d="M107.5 32V385" stroke="#8f8f8f" stroke-opacity="0.22" />
<path d="M129.5 32V385" stroke="#8f8f8f" stroke-opacity="0.22" />
<path d="M141.5 32V385" stroke="#8f8f8f" stroke-opacity="0.22" />
<path d="M152.5 32V385" stroke="#8f8f8f" stroke-opacity="0.22" />
<path d="M175.5 32V385" stroke="#8f8f8f" stroke-opacity="0.22" />
<path d="M187.5 32V385" stroke="#8f8f8f" stroke-opacity="0.22" />
<path d="M198.5 32V385" stroke="#8f8f8f" stroke-opacity="0.22" />
<path d="M221.5 32V385" stroke="#8f8f8f" stroke-opacity="0.22" />
<path d="M233.5 32V385" stroke="#8f8f8f" stroke-opacity="0.22" />
<path d="M244.5 32V385" stroke="#8f8f8f" stroke-opacity="0.22" />
<path d="M267.5 32V385" stroke="#8f8f8f" stroke-opacity="0.22" />
<path d="M278.5 32V385" stroke="#8f8f8f" stroke-opacity="0.22" />
<path d="M290.5 32V385" stroke="#8f8f8f" stroke-opacity="0.22" />
<path d="M313.5 32V385" stroke="#8f8f8f" stroke-opacity="0.22" />
<path d="M324.5 32V385" stroke="#8f8f8f" stroke-opacity="0.22" />
<path d="M336.5 32V385" stroke="#8f8f8f" stroke-opacity="0.22" />
<path d="M359.5 32V385" stroke="#8f8f8f" stroke-opacity="0.22" />
<path d="M370.5 32V385" stroke="#8f8f8f" stroke-opacity="0.22" />
<path d="M382.5 32V385" stroke="#8f8f8f" stroke-opacity="0.22" />
<path d="M404.5 32V385" stroke="#8f8f8f" stroke-opacity="0.22" />
<path d="M416.5 32V385" stroke="#8f8f8f" stroke-opacity="0.22" />
<path d="M427.5 32V385" stroke="#8f8f8f" stroke-opacity="0.22" />
<path d="M450.5 32V385" stroke="#8f8f8f" stroke-opacity="0.22" />
<path d="M462.5 32V385" stroke="#8f8f8f" stroke-opacity="0.22" />
<path d="M473.5 32V385" stroke="#8f8f8f" stroke-opacity="0.22" />
<path d="M496.5 32V385" stroke="#8f8f8f" stroke-opacity="0.22" />
<path d="M508.5 32V385" stroke="#8f8f8f" stroke-opacity="0.22" />
<path d="M519.5 32V385" stroke="#8f8f8f" stroke-opacity="0.22" />
<path d="M542.5 32V385" stroke="#8f8f8f" stroke-opacity="0.22" />
<path d="M553.5 32V385" stroke="#8f8f8f" stroke-opacity="0.22" />
<path d="M565.5 32V385" stroke="#8f8f8f" stroke-opacity="0.22" />
<path d="M588.5 32V385" stroke="#8f8f8f" stroke-opacity="0.22" />
<path d="M599.5 32V385" stroke="#8f8f8f" stroke-opacity="0.22" />
<path d="M611.5 32V385" stroke="#8f8f8f" stroke-opacity="0.22" />
<path d="M66 366.5H618" stroke="#8f8f8f" stroke-opacity="0.22"/>
<path d="M66 332.5H618" stroke="#8f8f8f" stroke-opacity="0.22"/>
<path d="M66 298.5H618" stroke="#8f8f8f" stroke-opacity="0.22"/>
<path d="M66 264.5H618" stroke="#8f8f8f" stroke-opacity="0.22"/>
<path d="M66 230.5H618" stroke="#8f8f8f" stroke-opacity="0.22"/>
<path d="M66 196.5H618" stroke="#8f8f8f" stroke-opacity="0.22"/>
<path d="M66 162.5H618" stroke="#8f8f8f" stroke-opacity="0.22"/>
<path d="M66 128.5H618" stroke="#8f8f8f" stroke-opacity="0.22"/>
<path d="M66 94.5H618" stroke="#8f8f8f" stroke-opacity="0.22"/>
<path d="M66 60.5H618" stroke="#8f8f8f" stroke-opacity="0.22"/>
<path d="M72.5 32V386" stroke="#de4f4f" stroke-opacity="0.34"/>
<path d="M118.5 32V386" stroke="#de4f4f" stroke-opacity="0.34"/>
<path d="M164.5 32V386" stroke="#de4f4f" stroke-opacity="0.34"/>
<path d="M210.5 32V386" stroke="#de4f4f" stroke-opacity="0.34"/>
<path d="M256.5 32V386" stroke="#de4f4f" stroke-opacity="0.34"/>
<path d="M301.5 32V386" stroke="#de4f4f" stroke-opacity="0.34"/>
<path d="M347.5 32V386" stroke="#de4f4f" stroke-opacity="0.34"/>
<path d="M393.5 32V386" stroke="#de4f4f" stroke-opacity="0.34"/>
<path d="M439.5 32V386" stroke="#de4f4f" stroke-opacity="0.34"/>
<path d="M485.5 32V386" stroke="#de4f4f" stroke-opacity="0.34"/>
<path d="M531.5 32V386" stroke="#de4f4f" stroke-opacity="0.34"/>
<path d="M576.5 32V386" stroke="#de4f4f" stroke-opacity="0.34"/>
<path d="M65 383.5H619" stroke="#de4f4f" stroke-opacity="0.34"/>
<path d="M65 349.5H619" stroke="#de4f4f" stroke-opacity="0.34"/>
<path d="M65 315.5H619" stroke="#de4f4f" stroke-opacity="0.34"/>
<path d="M65 281.5H619" stroke="#de4f4f" stroke-opacity="0.34"/>
<path d="M65 247.5H619" stroke="#de4f4f" stroke-opacity="0.34"/>
<path d="M65 213.5H619" stroke="#de4f4f" stroke-opacity="0.34"/>
<path d="M65 179.5H619" stroke="#de4f4f" stroke-opacity="0.34"/>
<path d="M65 145.5H619" stroke="#de4f4f" stroke-opacity="0.34"/>
<path d="M65 111.5H619" stroke="#de4f4f" stroke-opacity="0.34"/>
<path d="M65 77.5H619" stroke="#de4f4f" stroke-opacity="0.34"/>
<path d="M65 43.5H619" stroke="#de4f4f" stroke-opacity="0.34"/>
</g>
<path d="M67.5 31V387.5M617.5 31V387.5" stroke="#1f1f1f" stroke-opacity="0.72" stroke-width="1" fill="none" shape-rendering="crispEdges"/>
<polygon points="67.5,26 65,31 70,31" fill="#801f1f"/>
<polygon points="617.5,26 615,31 620,31" fill="#801f1f"/>
<path d="M63 383.5H619" stroke="#1f1f1f" stroke-opacity="0.72" stroke-width="1" fill="none" shape-rendering="crispEdges"/>
<polygon points="624.2,383.5 619,380.9 619,386.1" fill="#801f1f"/>
<text class="t" x="162.3" y="21" xml:space="preserve" textLength="376" lengthAdjust="spacing">Temperaturverlauf und Fuellstand am: 14.03.2017</text>
<text class="x" x="54.4" y="387.1" xml:space="preserve" textLength="6.2" lengthAdjust="spacing">0</text>
<text class="x" x="648.6" y="387.1" xml:space="preserve" textLength="6.2" lengthAdjust="spacing">0</text>
<text class="x" x="48.2" y="353.1" xml:space="preserve" textLength="12.4" lengthAdjust="spacing">10</text>
<text class="x" x="642.4" y="353.1" xml:space="preserve" textLength="12.4" lengthAdjust="spacing">10</text>
<text class="x" x="48.2" y="319.1" xml:space="preserve" textLength="12.4" lengthAdjust="spacing">20</text>
<text class="x" x="642.4" y="319.1" xml:space="preserve" textLength="12.4" lengthAdjust="spacing">20</text>
<text class="x" x="48.2" y="285.1" xml:space="preserve" textLength="12.4" lengthAdjust="spacing">30</text>
<text class="x" x="642.4" y="285.1" xml:space="preserve" textLength="12.4" lengthAdjust="spacing">30</text>
<text class="x" x="48.2" y="251.1" xml:space="preserve" textLength="12.4" lengthAdjust="spacing">40</text>
<text class="x" x="642.4" y="251.1" xml:space="preserve" textLength="12.4" lengthAdjust="spacing">40</text>
<text class="x" x="48.2" y="217.1" xml:space="preserve" textLength="12.4" lengthAdjust="spacing">50</text>
<text class="x" x="642.4" y="217.1" xml:space="preserve" textLength="12.4" lengthAdjust="spacing">50</text>
<text class="x" x="48.2" y="183.1" xml:space="preserve" textLength="12.4" lengthAdjust="spacing">60</text>
<text class="x" x="642.4" y="183.1" xml:space="preserve" textLength="12.4" lengthAdjust="spacing">60</text>
<text class="x" x="48.2" y="149.1" xml:space="preserve" textLength="12.4" lengthAdjust="spacing">70</text>
<text class="x" x="642.4" y="149.1" xml:space="preserve" textLength="12.4" lengthAdjust="spacing">70</text>
<text class="x" x="48.2" y="115.1" xml:space="preserve" textLength="12.4" lengthAdjust="spacing">80</text>
<text class="x" x="642.4" y="115.1" xml:space="preserve" textLength="12.4" lengthAdjust="spacing">80</text>
<text class="x" x="48.2" y="81.1" xml:space="preserve" textLength="12.4" lengthAdjust="spacing">90</text>
<text class="x" x="642.4" y="81.1" xml:space="preserve" textLength="12.4" lengthAdjust="spacing">90</text>
<text class="x" x="42.0" y="47.1" xml:space="preserve" textLength="18.6" lengthAdjust="spacing">100</text>
<text class="x" x="636.2" y="47.1" xml:space="preserve" textLength="18.6" lengthAdjust="spacing">100</text>
<text class="x" x="45.3" y="398" xml:space="preserve" textLength="54.72" lengthAdjust="spacing">Tue 00:00</text>
<text class="x" x="182.8" y="398" xml:space="preserve" textLength="54.72" lengthAdjust="spacing">Tue 06:00</text>
<text class="x" x="320.3" y="398" xml:space="preserve" textLength="54.72" lengthAdjust="spacing">Tue 12:00</text>
<text class="x" x="457.8" y="398" xml:space="preserve" textLength="54.72" lengthAdjust="spacing">Tue 18:00</text>
<text class="l" transform="translate(18.2,211.1) rotate(-90)">C</text>
<text class="w" transform="translate(685.5,7) rotate(90)" textLength="110" lengthAdjust="spacing">RRDTOOL / TOBI OETIKER</text>
<rect x="16.5" y="407.5" width="8" height="8" fill="#ff0000" stroke="#000" stroke-width="1" shape-rendering="crispEdges"/>
<text class="l" x="30" y="415" xml:space="preserve" textLength="63" lengthAdjust="spacing">VL Kessel</text>
<rect x="114.5" y="407.5" width="8" height="8" fill="#00006e" stroke="#000" stroke-width="1" shape-rendering="crispEdges"/>
<text class="l" x="128" y="415" xml:space="preserve" textLength="63" lengthAdjust="spacing">RL Kessel</text>
<rect x="219.5" y="407.5" width="8" height="8" fill="#ff80a8" stroke="#000" stroke-width="1" shape-rendering="crispEdges"/>
<text class="l" x="233" y="415" xml:space="preserve" textLength="70" lengthAdjust="spacing">VL Heizung</text>
<rect x="338.5" y="407.5" width="8" height="8" fill="#0000ff" stroke="#000" stroke-width="1" shape-rendering="crispEdges"/>
<text class="l" x="352" y="415" xml:space="preserve" textLength="70" lengthAdjust="spacing">RL Heizung</text>
<rect x="471.5" y="407.5" width="8" height="8" fill="#aa0000" stroke="#000" stroke-width="1" shape-rendering="crispEdges"/>
<text class="l" x="485" y="415" xml:space="preserve" textLength="77" lengthAdjust="spacing">Puffer Oben</text>
<rect x="583.5" y="407.5" width="8" height="8" fill="#800090" stroke="#000" stroke-width="1" shape-rendering="crispEdges"/>
<text class="l" x="597" y="415" xml:space="preserve" textLength="84" lengthAdjust="spacing">Puffer Mitte</text>
<rect x="16.5" y="421.5" width="8" height="8" fill="#ff00ff" stroke="#000" stroke-width="1" shape-rendering="crispEdges"/>
<text class="l" x="30" y="429" xml:space="preserve" textLength="77" lengthAdjust="spacing">Luftfeuchte</text>
<rect x="124.5" y="421.5" width="8" height="8" fill="#0000ff" stroke="#000" stroke-width="1" shape-rendering="crispEdges"/>
<text class="l" x="138" y="429" xml:space="preserve" textLength="91" lengthAdjust="spacing">AT&gt;5C, FS AUS</text>
<rect x="246.5" y="421.5" width="8" height="8" fill="#ff00ff" stroke="#000" stroke-width="1" shape-rendering="crispEdges"/>
<text class="l" x="260" y="429" xml:space="preserve" textLength="91" lengthAdjust="spacing">AT&lt;2C, FS EIN</text>
<rect x="368.5" y="421.5" width="8" height="8" fill="#808080" stroke="#000" stroke-width="1" shape-rendering="crispEdges"/>
<text class="l" x="382" y="429" xml:space="preserve" textLength="84" lengthAdjust="spacing">Kessel-P AUS</text>
<rect x="483.5" y="421.5" width="8" height="8" fill="#cccc00" stroke="#000" stroke-width="1" shape-rendering="crispEdges"/>
<text class="l" x="497" y="429" xml:space="preserve" textLength="84" lengthAdjust="spacing">Kessel-P EIN</text>
<rect x="598.5" y="421.5" width="8" height="8" fill="#ff0000" stroke="#000" stroke-width="1" shape-rendering="crispEdges"/>
<text class="l" x="612" y="429" xml:space="preserve" textLength="70" lengthAdjust="spacing">Heiz-P AUS</text>
<rect x="16.5" y="435.5" width="8" height="8" fill="#00ff00" stroke="#000" stroke-width="1" shape-rendering="crispEdges"/>
<text class="l" x="30" y="443" xml:space="preserve" textLength="70" lengthAdjust="spacing">Heiz-P EIN</text>
<text class="l" x="147" y="443" xml:space="preserve" textLength="161" lengthAdjust="spacing">akt.rH: 0.00 C um 23:45</text>
<text class="l" x="355" y="443" xml:space="preserve" textLength="161" lengthAdjust="spacing">akt.AT: 6.94 C um 23:45</text>
<text class="l" x="563" y="443" xml:space="preserve" textLength="119" lengthAdjust="spacing">min.AT24h: 1.94 C</text>
<text class="l" x="16" y="457" xml:space="preserve" textLength="119" lengthAdjust="spacing">max.AT24h: 9.81 C</text>
<text class="l" x="151" y="457" xml:space="preserve" textLength="259" lengthAdjust="spacing">akt.Fuellstand:   29 Prozent um 23:45</text>
</svg></body></html>
